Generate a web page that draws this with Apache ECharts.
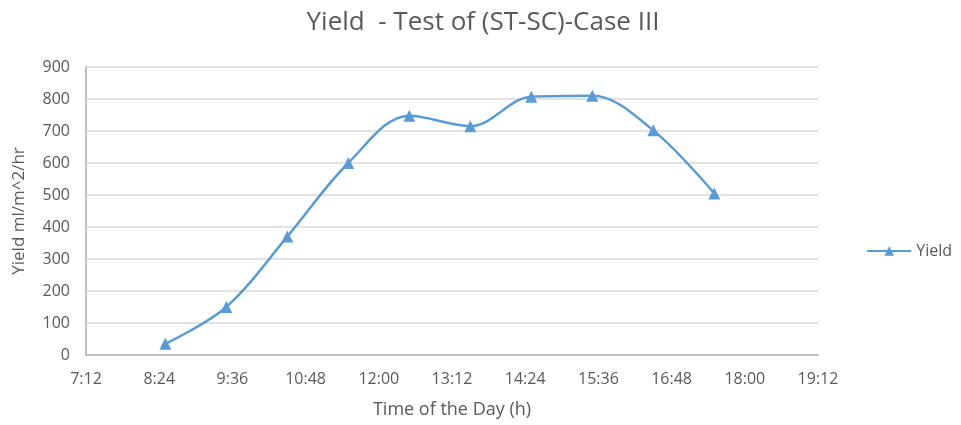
<!DOCTYPE html>
<html>
<head>
<meta charset="utf-8">
<script src="https://cdn.jsdelivr.net/npm/echarts@6/dist/echarts.min.js"></script>
<style>
  html, body { margin: 0; padding: 0; background: #fff; }
  #chart { width: 961px; height: 425px; }
</style>
</head>
<body>
<div id="chart"></div>
<script>
// time of day in minutes after midnight (8:30 ... 17:30)
const times = [510, 570, 630, 690, 750, 810, 870, 930, 990, 1050];
const yieldValues = [35, 150, 370, 600, 748, 715, 807, 810, 702, 505];

const fmtTime = function(v) {
  const h = Math.floor(v / 60);
  const m = v % 60;
  return h + ':' + (m < 10 ? '0' + m : m);
};

const chart = echarts.init(document.getElementById('chart'));
const font = '"Open Sans", "Liberation Sans", sans-serif';

chart.setOption({
  animation: false,
  textStyle: { fontFamily: font },
  title: {
    text: 'Yield  - Test of (ST-SC)-Case III',
    left: 478,
    textAlign: 'center',
    top: 5,
    textStyle: { fontFamily: font, fontSize: 26, fontWeight: 'normal', color: '#595959' }
  },
  legend: {
    right: 4,
    top: 238,
    itemWidth: 44,
    itemHeight: 12,
    itemGap: 4,
    textStyle: { fontFamily: font, fontSize: 16, color: '#595959' },
    data: ['Yield']
  },
  grid: { left: 86, right: 143, top: 67, bottom: 70 },
  xAxis: {
    type: 'value',
    min: 432,
    max: 1152,
    interval: 72,
    name: 'Time of the Day (h)',
    nameLocation: 'middle',
    nameGap: 46,
    nameTextStyle: { fontFamily: font, fontSize: 18, color: '#595959' },
    axisLine: { lineStyle: { color: '#bfbfbf', width: 2 } },
    axisTick: { show: false },
    splitLine: { show: false },
    axisLabel: { formatter: fmtTime, fontSize: 16, color: '#595959', margin: 16 }
  },
  yAxis: {
    type: 'value',
    min: 0,
    max: 900,
    interval: 100,
    name: 'Yield ml/m^2/hr',
    nameLocation: 'middle',
    nameGap: 58,
    nameTextStyle: { fontFamily: font, fontSize: 17, color: '#595959' },
    axisLine: { show: true, lineStyle: { color: '#bfbfbf', width: 2 } },
    axisTick: { show: false },
    splitLine: { lineStyle: { color: '#d9d9d9', width: 1.5 } },
    axisLabel: { fontSize: 16, color: '#595959', margin: 16 }
  },
  series: [{
    name: 'Yield',
    type: 'line',
    smooth: 0.35,
    data: times.map((t, i) => [t, yieldValues[i]]),
    symbol: 'triangle',
    symbolSize: 12,
    lineStyle: { color: '#5b9bd5', width: 2.5 },
    itemStyle: { color: '#5b9bd5' }
  }]
});
</script>
</body>
</html>
